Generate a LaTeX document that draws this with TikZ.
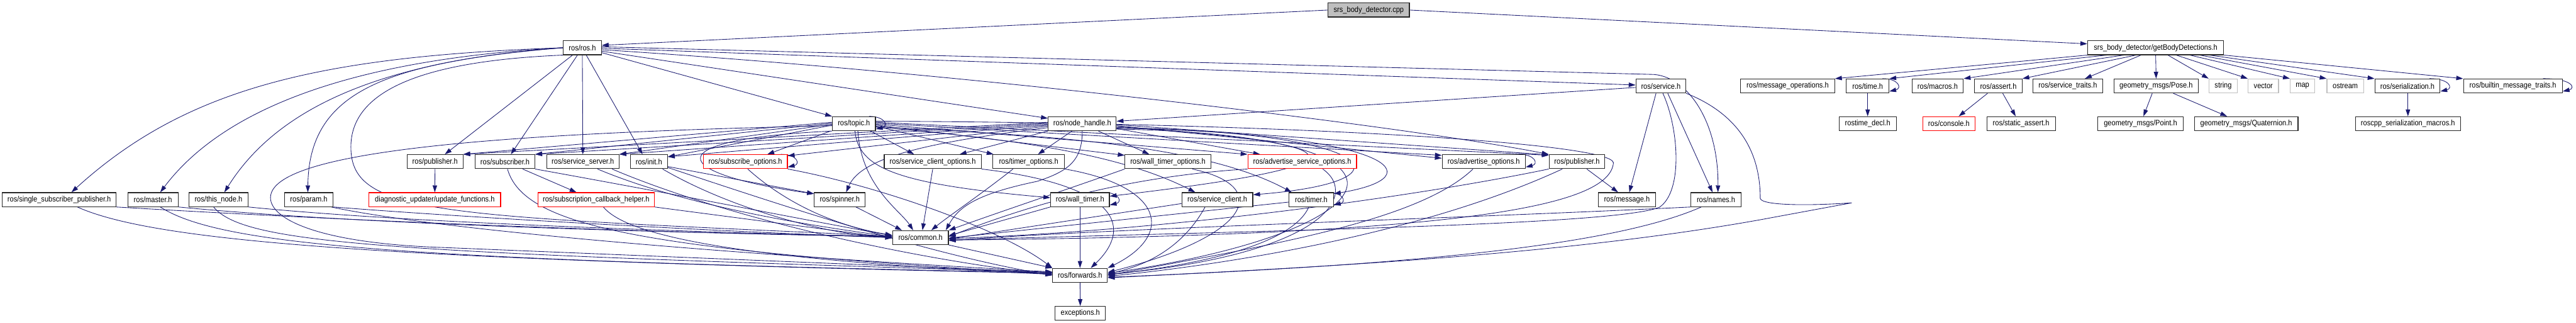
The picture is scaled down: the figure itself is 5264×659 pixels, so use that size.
\documentclass[tikz,border=0pt]{standalone}
\usepackage{fontspec}
\newfontfamily\dfont[FakeStretch=0.89]{Liberation Sans}
\usetikzlibrary{arrows.meta}
\pgfdeclarelayer{bg}
\pgfsetlayers{bg,main}
\definecolor{edgec}{HTML}{191970}
\definecolor{boxg}{HTML}{BFBFBF}
\begin{document}
\begin{tikzpicture}[x=1pt,y=-1pt,
  nbox/.style={draw=black!85, line width=1.5pt, fill=white, minimum height=28.5pt, inner sep=0pt, font=\dfont\fontsize{16}{19}\selectfont},
  rbox/.style={nbox, draw=red},
  gbox/.style={nbox, draw=boxg},
  edg/.style={draw=edgec, line width=1.1pt, -{Triangle[length=14pt,width=9pt]}},
]
\useasboundingbox (0,0) rectangle (5264,659);
% row 0-1
\node[nbox, fill=boxg, minimum width=166pt] (srs) at (2797,20.5) {srs\_body\_detector.cpp};
\node[nbox, minimum width=78pt] (ros) at (1190,97.5) {ros/ros.h};
\node[nbox, minimum width=278pt] (gbd) at (4405,97.5) {srs\_body\_detector/getBodyDetections.h};
% row 2
\node[nbox, minimum width=102pt] (service) at (3394,175.5) {ros/service.h};
\node[nbox, minimum width=192pt] (msgops) at (3653,175.5) {ros/message\_operations.h};
\node[nbox, minimum width=87pt] (time) at (3816.5,175.5) {ros/time.h};
\node[nbox, minimum width=105pt] (macros) at (3959.5,175.5) {ros/macros.h};
\node[nbox, minimum width=97pt] (assert) at (4083.5,175.5) {ros/assert.h};
\node[nbox, minimum width=143pt] (svctraits) at (4225.5,175.5) {ros/service\_traits.h};
\node[nbox, minimum width=172pt] (pose) at (4406,175.5) {geometry\_msgs/Pose.h};
\node[gbox, minimum width=58pt] (string) at (4543,175.5) {string};
\node[gbox, minimum width=62pt] (vector) at (4625,175.5) {vector};
\node[gbox, minimum width=50pt] (map) at (4705,175.5) {map};
\node[gbox, minimum width=75pt] (ostream) at (4792.5,175.5) {ostream};
\node[nbox, minimum width=133pt] (serial) at (4919.5,175.5) {ros/serialization.h};
\node[nbox, minimum width=202pt] (builtin) at (5135,175.5) {ros/builtin\_message\_traits.h};
% row 3
\node[nbox, minimum width=88pt] (topic) at (1745,252.5) {ros/topic.h};
\node[nbox, minimum width=139pt] (nh) at (2211.5,252.5) {ros/node\_handle.h};
\node[nbox, minimum width=117pt] (rtdecl) at (3816.5,252.5) {rostime\_decl.h};
\node[rbox, minimum width=107pt] (console) at (3982.5,252.5) {ros/console.h};
\node[nbox, minimum width=140pt] (sassert) at (4130,252.5) {ros/static\_assert.h};
\node[nbox, minimum width=174pt] (point) at (4374,252.5) {geometry\_msgs/Point.h};
\node[nbox, minimum width=212pt] (quat) at (4590,252.5) {geometry\_msgs/Quaternion.h};
\node[nbox, minimum width=215pt] (serialmac) at (4920.5,252.5) {roscpp\_serialization\_macros.h};
% row 4
\node[nbox, minimum width=114pt] (pubL) at (889,330) {ros/publisher.h};
\node[nbox, minimum width=122pt] (sub) at (1032,330) {ros/subscriber.h};
\node[nbox, minimum width=148pt] (ssrv) at (1191,330) {ros/service\_server.h};
\node[nbox, minimum width=76pt] (init) at (1326,330) {ros/init.h};
\node[rbox, minimum width=172pt] (subopt) at (1523,330) {ros/subscribe\_options.h};
\node[nbox, minimum width=198pt] (scopt) at (1906,330) {ros/service\_client\_options.h};
\node[nbox, minimum width=146pt] (topt) at (2102,330) {ros/timer\_options.h};
\node[nbox, minimum width=175pt] (wtopt) at (2386.5,330) {ros/wall\_timer\_options.h};
\node[rbox, minimum width=222pt] (asopt) at (2661,330) {ros/advertise\_service\_options.h};
\node[nbox, minimum width=170pt] (aopt) at (3032,330) {ros/advertise\_options.h};
\node[nbox, minimum width=114pt] (pubR) at (3222.5,330) {ros/publisher.h};
% row 5
\node[nbox, minimum width=232pt] (ssp) at (121,407.5) {ros/single\_subscriber\_publisher.h};
\node[nbox, minimum width=103pt] (master) at (312.5,407.5) {ros/master.h};
\node[nbox, minimum width=121pt] (thisnode) at (446.5,407.5) {ros/this\_node.h};
\node[nbox, minimum width=100pt] (param) at (631,407.5) {ros/param.h};
\node[rbox, minimum width=269pt] (diag) at (888.5,407.5) {diagnostic\_updater/update\_functions.h};
\node[rbox, minimum width=238pt] (sch) at (1218,407.5) {ros/subscription\_callback\_helper.h};
\node[nbox, minimum width=104pt] (spinner) at (1716,407.5) {ros/spinner.h};
\node[nbox, minimum width=120pt] (wtimer) at (2207,407.5) {ros/wall\_timer.h};
\node[nbox, minimum width=145pt] (sclient) at (2487.5,407.5) {ros/service\_client.h};
\node[nbox, minimum width=91pt] (timer) at (2679.5,407.5) {ros/timer.h};
\node[nbox, minimum width=117pt] (message) at (3324.5,407.5) {ros/message.h};
\node[nbox, minimum width=102pt] (names) at (3506.5,407.5) {ros/names.h};
% rows 6-8
\node[nbox, minimum width=114pt] (common) at (1881,485) {ros/common.h};
\node[nbox, minimum width=112pt] (fwd) at (2207,562) {ros/forwards.h};
\node[nbox, minimum width=103pt] (exc) at (2207.5,639.5) {exceptions.h};

\begin{pgfonlayer}{bg}
\fill[white] (0,0) rectangle (5264,659);
% srs
\draw[edg] (srs.west) -- ([yshift=5pt]ros.east);
\draw[edg] (srs.east) -- ([yshift=8pt]gbd.west);
% gbd
\draw[edg] (gbd.south west) -- (msgops.north east);
\draw[edg] ([xshift=-100pt]gbd.south) -- (time.north east);
\draw[edg] ([xshift=-65pt]gbd.south) -- (macros.north east);
\draw[edg] ([xshift=-40pt]gbd.south) -- (assert.north east);
\draw[edg] ([xshift=-30pt]gbd.south) -- ([xshift=35pt]svctraits.north);
\draw[edg] (gbd.south) -- (pose.north);
\draw[edg] ([xshift=25pt]gbd.south) -- (string.north west);
\draw[edg] ([xshift=42pt]gbd.south) -- (vector.north west);
\draw[edg] ([xshift=70pt]gbd.south) -- (map.north west);
\draw[edg] ([xshift=90pt]gbd.south) -- (ostream.north west);
\draw[edg] ([xshift=110pt]gbd.south) -- (serial.north west);
\draw[edg] (gbd.south east) -- (builtin.north west);
\draw[edg] (time.south) -- (rtdecl.north);
\draw[edg] ([xshift=-22pt]assert.south) -- ([xshift=20pt]console.north);
\draw[edg] ([xshift=9pt]assert.south) -- ([xshift=-11pt]sassert.north);
\draw[edg] ([xshift=-8pt]pose.south) -- ([xshift=6pt]point.north);
\draw[edg] ([xshift=35pt]pose.south) -- ([xshift=-39pt]quat.north);
\draw[edg] ([xshift=1pt]serial.south) -- (serialmac.north);
% self loops
\draw[edg] ([xshift=-14pt]time.north east) .. controls +(34,0) and +(26,-6) .. ([yshift=4pt]time.south east);
\draw[edg] ([xshift=-14pt]topic.north east) .. controls +(34,0) and +(26,-6) .. ([yshift=4pt]topic.south east);
\draw[edg] ([xshift=-14pt]subopt.north east) .. controls +(34,0) and +(26,-6) .. ([yshift=4pt]subopt.south east);
\draw[edg] ([xshift=-14pt]aopt.north east) .. controls +(34,0) and +(26,-6) .. ([yshift=4pt]aopt.south east);
\draw[edg] ([xshift=-14pt]wtimer.north east) .. controls +(34,0) and +(26,-6) .. ([yshift=4pt]wtimer.south east);
\draw[edg] ([xshift=-14pt]timer.north east) .. controls +(34,0) and +(26,-6) .. ([yshift=4pt]timer.south east);
\draw[edg] ([xshift=-22pt]serial.north east) .. controls +(42,0) and +(26,-6) .. ([yshift=4pt]serial.south east);
\draw[edg] ([xshift=-40pt]builtin.north east) .. controls +(62,0) and +(26,-6) .. ([yshift=4pt]builtin.south east);
% ros
\draw[edg] (ros.west) .. controls (650,115) and (380,180) .. ([xshift=25pt]ssp.north);
\draw[edg] (ros.west) .. controls (700,122) and (450,230) .. ([xshift=15pt]master.north);
\draw[edg] (ros.west) .. controls (760,125) and (560,230) .. ([xshift=12pt]thisnode.north);
\draw[edg] (ros.west) .. controls (780,128) and (631,190) .. ([xshift=-2pt]param.north);
\draw[edg] (ros.south west) .. controls (850,125) and (717,190) .. (717,300) .. controls (717,440) and (900,440) .. ([yshift=3pt]common.west);
\draw[edg] ([xshift=-20pt]ros.south) -- ([xshift=20pt]pubL.north);
\draw[edg] ([xshift=-10pt]ros.south) -- ([xshift=12pt]sub.north);
\draw[edg] (ros.south) -- (ssrv.north);
\draw[edg] ([xshift=8pt]ros.south) -- ([xshift=-13pt]init.north);
\draw[edg] ([yshift=-10pt]ros.east) -- (topic.north west);
\draw[edg] ([yshift=-7pt]ros.east) -- ([yshift=-4pt]nh.north west);
\draw[edg] ([yshift=-4pt]ros.east) .. controls (2000,150) and (2900,262) .. (pubR.north west);
\draw[edg] ([yshift=-1pt]ros.east) -- ([yshift=2pt]service.west);
\draw[edg] ([yshift=2pt]ros.east) -- (3380,152) .. controls (3450,158) and (3512,250) .. ([xshift=4pt]names.north);
% topic
\draw[edg] ([yshift=3pt]topic.west) -- (pubL.north east);
\draw[edg] ([yshift=1pt]topic.west) -- (sub.north east);
\draw[edg] ([yshift=-1pt]topic.west) -- (ssrv.north east);
\draw[edg] ([yshift=-3pt]topic.west) -- ([yshift=-5pt]init.north east);
\draw[edg] ([xshift=-3pt]topic.south west) -- ([xshift=45pt]subopt.north);
\draw[edg] ([xshift=34pt]topic.south) -- ([xshift=-38pt]scopt.north);
\draw[edg] ([yshift=-5pt]topic.east) -- ([xshift=2pt]topt.north west);
\draw[edg] ([yshift=-3pt]topic.east) -- ([yshift=-2pt]wtopt.north west);
\draw[edg] ([yshift=-1pt]topic.east) -- (asopt.north west);
\draw[edg] ([yshift=1pt]topic.east) -- ([yshift=-2pt]aopt.north west);
\draw[edg] ([yshift=3pt]topic.east) -- ([yshift=-2pt]pubR.north west);
\draw[edg] ([xshift=2pt]topic.south) .. controls (1755,340) and (1820,375) .. ([yshift=4pt]wtimer.west);
\draw[edg] ([yshift=-7pt]topic.east) .. controls (2100,285) and (2300,320) .. ([xshift=-45pt]sclient.north);
\draw[edg] ([yshift=-6pt]topic.east) .. controls (2100,275) and (2450,290) .. ([xshift=-40pt]timer.north);
\draw[edg] (topic.south west) .. controls (1330,285) and (1370,355) .. ([yshift=12pt]spinner.west);
\draw[edg] ([xshift=8pt]topic.south) .. controls (1760,380) and (1840,430) .. ([xshift=-15pt]common.north);
\draw[edg] ([yshift=-4pt]topic.west) .. controls (1100,270) and (600,300) .. (556,390) .. controls (534,435) and (620,495) .. (900,505) -- ([yshift=6pt]fwd.west);
\draw[edg] ([yshift=5pt]topic.east) .. controls (2600,250) and (3290,290) .. (3297,332) .. controls (3290,420) and (3000,480) .. ([yshift=-5pt]common.east);
% node_handle
\draw[edg] ([yshift=3pt]nh.west) -- (pubL.north east);
\draw[edg] ([yshift=1pt]nh.west) -- (sub.north east);
\draw[edg] ([yshift=-1pt]nh.west) -- (ssrv.north east);
\draw[edg] ([yshift=-3pt]nh.west) -- ([yshift=-5pt]init.north east);
\draw[edg] ([yshift=-5pt]nh.west) -- ([yshift=-3pt]subopt.north east);
\draw[edg] (nh.south west) -- ([xshift=55pt]scopt.north);
\draw[edg] ([xshift=-21pt]nh.south) -- ([xshift=19pt]topt.north);
\draw[edg] ([xshift=33pt]nh.south) -- ([xshift=-38pt]wtopt.north);
\draw[edg] ([yshift=-10pt]nh.east) -- ([xshift=-86pt]asopt.north);
\draw[edg] ([yshift=-4pt]nh.east) -- ([yshift=-8pt]aopt.north west);
\draw[edg] ([yshift=-2pt]nh.east) -- ([yshift=-1pt]pubR.north west);
\draw[edg] ([yshift=-8pt]nh.west) .. controls (1900,290) and (1760,320) .. ([xshift=13pt]spinner.north);
\draw[edg] ([yshift=-6pt]nh.east) .. controls (2900,300) and (2700,350) .. ([yshift=7pt]wtimer.east);
\draw[edg] ([yshift=-8pt]nh.east) .. controls (2820,270) and (2900,370) .. ([yshift=10pt]sclient.east);
\draw[edg] ([yshift=-9pt]nh.east) .. controls (2840,272) and (2940,360) .. ([yshift=12pt]timer.east);
\draw[edg] (nh.south) .. controls (2212,330) and (2180,350) .. (2120,370) .. controls (2000,395) and (1960,420) .. ([xshift=-6pt]common.north east);
\draw[edg] ([yshift=-11pt]nh.east) .. controls (2960,275) and (2860,470) .. ([yshift=4pt]fwd.east);
% service
\draw[edg] ([yshift=-3pt]service.west) -- ([yshift=5pt]nh.east);
\draw[edg] ([xshift=-10pt]service.south) -- ([xshift=5pt]message.north);
\draw[edg] ([xshift=14pt]service.south) -- ([xshift=-7pt]names.north);
\draw[edg] ([xshift=4pt]service.south) .. controls (3430,260) and (3440,390) .. (3391,423) .. controls (3300,460) and (2600,470) .. ([yshift=-5pt]common.east);
\draw[edg] (service.south east) .. controls (3570,240) and (3597,330) .. (3597,405) .. controls (3600,420) and (3700,420) .. (3784,414) -- (3600,448) .. controls (3200,520) and (2700,545) .. ([yshift=-5pt]fwd.east);
% row 4 and 5
\draw[edg] (pubL.south) -- (diag.north);
\draw[edg] ([xshift=36pt]sub.south) -- ([xshift=-40pt]sch.north);
\draw[edg] (sub.south east) .. controls (1400,400) and (1650,450) .. ([yshift=4pt]common.west);
\draw[edg] ([xshift=5pt]sub.south) .. controls (1070,460) and (1300,510) .. ([yshift=3pt]fwd.west);
\draw[edg] ([xshift=30pt]ssrv.south) .. controls (1400,420) and (1650,460) .. ([yshift=2pt]common.west);
\draw[edg] ([xshift=-15pt]ssrv.south east) .. controls (1450,430) and (1800,520) .. ([yshift=1pt]fwd.west);
\draw[edg] ([yshift=-10pt]init.east) -- ([yshift=12pt]spinner.west);
\draw[edg] ([xshift=28pt]init.south) .. controls (1500,430) and (1700,480) .. (common.west);
\draw[edg] ([yshift=-12pt]init.east) .. controls (1600,420) and (1900,520) .. (fwd.west);
\draw[edg] ([xshift=5pt]subopt.south) .. controls (1600,410) and (1700,460) .. ([yshift=5pt]common.west);
\draw[edg] (subopt.south east) .. controls (1800,380) and (2050,470) .. (fwd.north west);
\draw[edg] (sch.south east) -- ([yshift=-1pt]common.west);
\draw[edg] ([xshift=15pt]sch.south) .. controls (1280,480) and (1500,530) .. ([yshift=2pt]fwd.west);
\draw[edg] ([xshift=33pt]spinner.south) -- ([xshift=-38pt]common.north);
\draw[edg] (scopt.south) -- ([xshift=4pt]common.north);
\draw[edg] (scopt.south east) .. controls (2300,380) and (2310,470) .. ([xshift=22pt]fwd.north);
\draw[edg] ([xshift=-32pt]topt.south) .. controls (2000,400) and (1940,440) .. ([xshift=22pt]common.north);
\draw[edg] (topt.south east) .. controls (2380,380) and (2400,480) .. (fwd.north east);
\draw[edg] (wtopt.south west) .. controls (2200,380) and (2050,430) .. (common.north east);
\draw[edg] ([xshift=50pt]wtopt.south) .. controls (2600,380) and (2560,480) .. ([yshift=6pt]fwd.east);
\draw[edg] (asopt.south west) .. controls (2300,360) and (2100,420) .. ([yshift=2pt]common.east);
\draw[edg] ([xshift=42pt]asopt.south) .. controls (2780,400) and (2700,520) .. ([yshift=2pt]fwd.east);
\draw[edg] ([xshift=-22pt]aopt.south) .. controls (2900,450) and (2600,500) .. (fwd.east);
\draw[edg] ([xshift=20pt]pubR.south) -- ([xshift=-18pt]message.north);
\draw[edg] (pubR.south west) .. controls (2900,400) and (2400,470) .. ([yshift=-2pt]common.east);
\draw[edg] ([xshift=-30pt]pubR.south) .. controls (2900,480) and (2500,540) .. ([yshift=-2pt]fwd.east);
\draw[edg] (wtimer.south) -- (fwd.north);
\draw[edg] (wtimer.south west) -- ([yshift=4pt]common.east);
\draw[edg] ([yshift=-8pt]sclient.west) -- ([yshift=-3pt]common.east);
\draw[edg] ([xshift=-25pt]sclient.south) .. controls (2420,500) and (2350,540) .. ([yshift=3pt]fwd.east);
\draw[edg] ([yshift=-5pt]timer.west) -- ([yshift=-1pt]common.east);
\draw[edg] ([xshift=-5pt]timer.south) .. controls (2640,500) and (2450,540) .. ([yshift=1pt]fwd.east);
\draw[edg] (names.south west) .. controls (3000,445) and (2300,465) .. ([yshift=-6pt]common.east);
\draw[edg] ([xshift=-30pt]names.south) .. controls (3300,500) and (2900,540) .. ([yshift=-4pt]fwd.east);
% left nodes
\draw[edg] (ssp.south east) .. controls (700,450) and (1300,475) .. ([yshift=2pt]common.west);
\draw[edg] ([xshift=37pt]ssp.south) .. controls (320,495) and (800,530) .. ([yshift=4pt]fwd.west);
\draw[edg] (master.south east) .. controls (700,455) and (1300,475) .. ([yshift=3pt]common.west);
\draw[edg] ([xshift=15pt]master.south) .. controls (450,500) and (800,530) .. ([yshift=5pt]fwd.west);
\draw[edg] (thisnode.south east) .. controls (800,452) and (1300,470) .. ([yshift=1pt]common.west);
\draw[edg] ([xshift=-10pt]thisnode.south) .. controls (500,500) and (800,515) .. ([yshift=6pt]fwd.west);
\draw[edg] (param.south east) .. controls (900,440) and (1400,470) .. (common.west);
\draw[edg] ([xshift=-5pt]param.south east) .. controls (900,470) and (1500,520) .. ([yshift=7pt]fwd.west);
% bottom
\draw[edg] (common.south east) -- (fwd.north west);
\draw[edg] (fwd.south) -- (exc.north);
\end{pgfonlayer}
\end{tikzpicture}
\end{document}
